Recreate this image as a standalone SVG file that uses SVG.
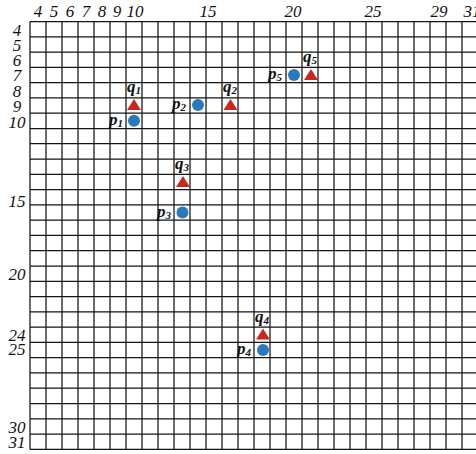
<svg xmlns="http://www.w3.org/2000/svg" width="476" height="454" viewBox="0 0 476 454">
<defs>
<style>
.ax{font-family:"Liberation Serif","Times New Roman",serif;font-style:italic;font-size:17px;fill:#111;text-anchor:middle}
.lb{font-family:"Liberation Serif","Times New Roman",serif;font-style:italic;font-weight:bold;font-size:17px;fill:#111}
.sub{font-size:11px}
.grid{stroke:#151515;stroke-width:1.25;fill:none}
.pt{fill:#2a7abb}
.tri{fill:#c8281f}
</style>
<path id="triS" d="M0,-6.5 L7,4.5 L-7,4.5 Z"/>
</defs>
<rect width="476" height="454" fill="#fff"/>
<g id="grid">
<path class="grid" d="M30,21.5V449.3M46,21.5V449.3M62,21.5V449.3M78,21.5V449.3M94,21.5V449.3M110,21.5V449.3M126,21.5V449.3M142,21.5V449.3M158,21.5V449.3M174,21.5V449.3M190,21.5V449.3M206,21.5V449.3M222,21.5V449.3M238,21.5V449.3M254,21.5V449.3M270,21.5V449.3M286,21.5V449.3M302,21.5V449.3M318,21.5V449.3M334,21.5V449.3M350,21.5V449.3M366,21.5V449.3M382,21.5V449.3M398,21.5V449.3M414,21.5V449.3M430,21.5V449.3M446,21.5V449.3M462,21.5V449.3M478,21.5V449.3"/>
<path class="grid" d="M30,21.5H478M30,36.8H478M30,52.1H478M30,67.3H478M30,82.6H478M30,97.9H478M30,113.2H478M30,128.5H478M30,143.7H478M30,159H478M30,174.3H478M30,189.6H478M30,204.9H478M30,220.1H478M30,235.4H478M30,250.7H478M30,266H478M30,281.3H478M30,296.5H478M30,311.8H478M30,327.1H478M30,342.4H478M30,357.7H478M30,372.9H478M30,388.2H478M30,403.5H478M30,418.8H478M30,434.1H478M30,449.3H478"/>
</g>
<g id="axis-x">
<text class="ax" x="38" y="17">4</text>
<text class="ax" x="54" y="17">5</text>
<text class="ax" x="70" y="17">6</text>
<text class="ax" x="86" y="17">7</text>
<text class="ax" x="102" y="17">8</text>
<text class="ax" x="117" y="17">9</text>
<text class="ax" x="135" y="17">10</text>
<text class="ax" x="208" y="17">15</text>
<text class="ax" x="293" y="17">20</text>
<text class="ax" x="373" y="17">25</text>
<text class="ax" x="439" y="17">29</text>
<text class="ax" x="472" y="17">31</text>
</g>
<g id="axis-y">
<text class="ax" x="17" y="35.5">4</text>
<text class="ax" x="17" y="50.8">5</text>
<text class="ax" x="17" y="66">6</text>
<text class="ax" x="17" y="81.3">7</text>
<text class="ax" x="17" y="96.6">8</text>
<text class="ax" x="17" y="111.9">9</text>
<text class="ax" x="17" y="128">10</text>
<text class="ax" x="17" y="207">15</text>
<text class="ax" x="17" y="280">20</text>
<text class="ax" x="17" y="341">24</text>
<text class="ax" x="17" y="355">25</text>
<text class="ax" x="17" y="433">30</text>
<text class="ax" x="17" y="448">31</text>
</g>
<g id="p1"><circle class="pt" cx="134" cy="120.8" r="6"/><text class="lb" x="109" y="125">p<tspan class="sub" dy="2">1</tspan></text></g>
<g id="q1"><use href="#triS" class="tri" x="134" y="105.5"/><text class="lb" x="127" y="92">q<tspan class="sub" dy="2">1</tspan></text></g>
<g id="p2"><circle class="pt" cx="198" cy="105" r="6"/><text class="lb" x="172" y="109">p<tspan class="sub" dy="2">2</tspan></text></g>
<g id="q2"><use href="#triS" class="tri" x="230.5" y="105.5"/><text class="lb" x="223" y="92">q<tspan class="sub" dy="2">2</tspan></text></g>
<g id="p3"><circle class="pt" cx="182.5" cy="212.5" r="6"/><text class="lb" x="157" y="217">p<tspan class="sub" dy="2">3</tspan></text></g>
<g id="q3"><use href="#triS" class="tri" x="183" y="182.5"/><text class="lb" x="175" y="169">q<tspan class="sub" dy="2">3</tspan></text></g>
<g id="p4"><circle class="pt" cx="263" cy="350" r="6"/><text class="lb" x="237" y="354">p<tspan class="sub" dy="2">4</tspan></text></g>
<g id="q4"><use href="#triS" class="tri" x="263" y="335"/><text class="lb" x="255" y="322">q<tspan class="sub" dy="2">4</tspan></text></g>
<g id="p5"><circle class="pt" cx="294" cy="75" r="6"/><text class="lb" x="268" y="79">p<tspan class="sub" dy="2">5</tspan></text></g>
<g id="q5"><use href="#triS" class="tri" x="311" y="75.5"/><text class="lb" x="303" y="62">q<tspan class="sub" dy="2">5</tspan></text></g>
</svg>
